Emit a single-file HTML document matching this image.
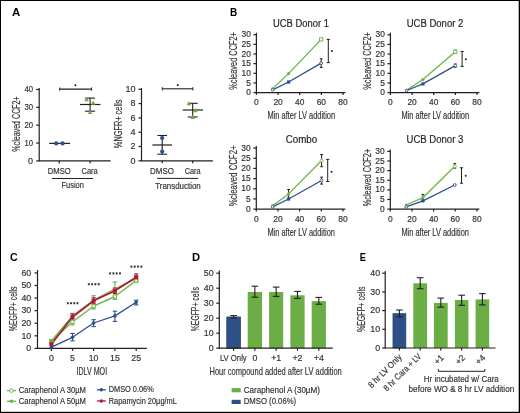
<!DOCTYPE html>
<html><head><meta charset="utf-8"><style>
html,body{margin:0;padding:0;background:#fff;}
body{width:520px;height:413px;overflow:hidden;position:relative;}
svg{position:absolute;left:0;top:0;will-change:transform;}
text{font-family:"Liberation Sans", sans-serif;}
</style></head><body>
<svg width="520" height="413" viewBox="0 0 520 413">
<rect x="0" y="0" width="520" height="413" fill="#fff"/>
<text x="16.20" y="15.71" font-size="11" text-anchor="middle" font-weight="bold" fill="#000" stroke="#000" stroke-width="0" textLength="8.30" lengthAdjust="spacingAndGlyphs">A</text>
<text x="233.60" y="15.95" font-size="10.5" text-anchor="middle" font-weight="bold" fill="#000" stroke="#000" stroke-width="0" textLength="7.20" lengthAdjust="spacingAndGlyphs">B</text>
<text x="13.95" y="261.43" font-size="10.8" text-anchor="middle" font-weight="bold" fill="#000" stroke="#000" stroke-width="0" textLength="7.70" lengthAdjust="spacingAndGlyphs">C</text>
<text x="196.15" y="261.43" font-size="10.8" text-anchor="middle" font-weight="bold" fill="#000" stroke="#000" stroke-width="0" textLength="8.10" lengthAdjust="spacingAndGlyphs">D</text>
<text x="362.80" y="261.23" font-size="10.8" text-anchor="middle" font-weight="bold" fill="#000" stroke="#000" stroke-width="0" textLength="6.20" lengthAdjust="spacingAndGlyphs">E</text>
<line x1="39.20" y1="88.00" x2="39.20" y2="161.50" stroke="#231f20" stroke-width="1.2"/>
<line x1="36.20" y1="160.90" x2="39.20" y2="160.90" stroke="#231f20" stroke-width="1.2"/>
<text x="33.00" y="163.69" font-size="9" text-anchor="end" font-weight="normal" fill="#333333" stroke="#333333" stroke-width="0.18">0</text>
<line x1="36.20" y1="143.05" x2="39.20" y2="143.05" stroke="#231f20" stroke-width="1.2"/>
<text x="33.00" y="145.84" font-size="9" text-anchor="end" font-weight="normal" fill="#333333" stroke="#333333" stroke-width="0.18" textLength="8.60" lengthAdjust="spacingAndGlyphs">10</text>
<line x1="36.20" y1="125.20" x2="39.20" y2="125.20" stroke="#231f20" stroke-width="1.2"/>
<text x="33.00" y="127.99" font-size="9" text-anchor="end" font-weight="normal" fill="#333333" stroke="#333333" stroke-width="0.18" textLength="8.60" lengthAdjust="spacingAndGlyphs">20</text>
<line x1="36.20" y1="107.35" x2="39.20" y2="107.35" stroke="#231f20" stroke-width="1.2"/>
<text x="33.00" y="110.14" font-size="9" text-anchor="end" font-weight="normal" fill="#333333" stroke="#333333" stroke-width="0.18" textLength="8.60" lengthAdjust="spacingAndGlyphs">30</text>
<line x1="36.20" y1="89.50" x2="39.20" y2="89.50" stroke="#231f20" stroke-width="1.2"/>
<text x="33.00" y="92.29" font-size="9" text-anchor="end" font-weight="normal" fill="#333333" stroke="#333333" stroke-width="0.18" textLength="8.60" lengthAdjust="spacingAndGlyphs">40</text>
<line x1="39.20" y1="160.90" x2="110.60" y2="160.90" stroke="#231f20" stroke-width="1.2"/>
<line x1="59.20" y1="160.90" x2="59.20" y2="163.40" stroke="#231f20" stroke-width="1.2"/>
<line x1="90.10" y1="160.90" x2="90.10" y2="163.40" stroke="#231f20" stroke-width="1.2"/>
<text x="47.70" y="174.11" font-size="9" text-anchor="start" font-weight="normal" fill="#333333" stroke="#333333" stroke-width="0.18" textLength="23.10" lengthAdjust="spacingAndGlyphs">DMSO</text>
<text x="81.50" y="174.11" font-size="9" text-anchor="start" font-weight="normal" fill="#333333" stroke="#333333" stroke-width="0.18" textLength="16.20" lengthAdjust="spacingAndGlyphs">Cara</text>
<line x1="52.00" y1="178.50" x2="93.00" y2="178.50" stroke="#231f20" stroke-width="1.0"/>
<text x="61.50" y="188.19" font-size="8.6" text-anchor="start" font-weight="normal" fill="#333333" stroke="#333333" stroke-width="0.18" textLength="22.30" lengthAdjust="spacingAndGlyphs">Fusion</text>
<text transform="translate(16.30,124.00) rotate(-90)" x="0" y="3.19" font-size="11" text-anchor="middle" font-weight="normal" fill="#333333" stroke="#333333" stroke-width="0.18" textLength="55.40" lengthAdjust="spacingAndGlyphs">%cleaved CCF2+</text>
<line x1="49.20" y1="143.40" x2="70.00" y2="143.40" stroke="#231f20" stroke-width="1.2"/>
<circle cx="56.20" cy="143.40" r="2.1" fill="#2f4f8c"/>
<circle cx="62.60" cy="143.40" r="2.1" fill="#2f4f8c"/>
<line x1="80.00" y1="104.50" x2="100.40" y2="104.50" stroke="#231f20" stroke-width="1.2"/>
<line x1="90.10" y1="98.10" x2="90.10" y2="111.20" stroke="#231f20" stroke-width="1.1"/>
<line x1="85.10" y1="98.10" x2="95.10" y2="98.10" stroke="#231f20" stroke-width="1.1"/>
<line x1="85.10" y1="111.20" x2="95.10" y2="111.20" stroke="#231f20" stroke-width="1.1"/>
<polygon points="86.60,97.20 88.88,101.28 84.32,101.28" fill="#6aae45"/>
<polygon points="93.20,100.60 95.48,104.68 90.92,104.68" fill="#6aae45"/>
<polygon points="90.10,109.90 92.38,113.98 87.82,113.98" fill="#6aae45"/>
<line x1="59.70" y1="89.10" x2="91.60" y2="89.10" stroke="#231f20" stroke-width="1.1"/>
<line x1="59.70" y1="87.50" x2="59.70" y2="90.70" stroke="#231f20" stroke-width="1.0"/>
<line x1="91.60" y1="87.50" x2="91.60" y2="90.70" stroke="#231f20" stroke-width="1.0"/>
<circle cx="75.40" cy="85.30" r="1.0" fill="#231f20"/>
<line x1="141.50" y1="88.00" x2="141.50" y2="161.40" stroke="#231f20" stroke-width="1.2"/>
<line x1="138.50" y1="160.80" x2="141.50" y2="160.80" stroke="#231f20" stroke-width="1.2"/>
<text x="135.60" y="163.59" font-size="9" text-anchor="end" font-weight="normal" fill="#333333" stroke="#333333" stroke-width="0.18">0</text>
<line x1="138.50" y1="146.50" x2="141.50" y2="146.50" stroke="#231f20" stroke-width="1.2"/>
<text x="135.60" y="149.29" font-size="9" text-anchor="end" font-weight="normal" fill="#333333" stroke="#333333" stroke-width="0.18">2</text>
<line x1="138.50" y1="132.20" x2="141.50" y2="132.20" stroke="#231f20" stroke-width="1.2"/>
<text x="135.60" y="134.99" font-size="9" text-anchor="end" font-weight="normal" fill="#333333" stroke="#333333" stroke-width="0.18">4</text>
<line x1="138.50" y1="117.90" x2="141.50" y2="117.90" stroke="#231f20" stroke-width="1.2"/>
<text x="135.60" y="120.69" font-size="9" text-anchor="end" font-weight="normal" fill="#333333" stroke="#333333" stroke-width="0.18">6</text>
<line x1="138.50" y1="103.60" x2="141.50" y2="103.60" stroke="#231f20" stroke-width="1.2"/>
<text x="135.60" y="106.39" font-size="9" text-anchor="end" font-weight="normal" fill="#333333" stroke="#333333" stroke-width="0.18">8</text>
<line x1="138.50" y1="89.30" x2="141.50" y2="89.30" stroke="#231f20" stroke-width="1.2"/>
<text x="135.60" y="92.09" font-size="9" text-anchor="end" font-weight="normal" fill="#333333" stroke="#333333" stroke-width="0.18">10</text>
<line x1="141.50" y1="160.80" x2="212.90" y2="160.80" stroke="#231f20" stroke-width="1.2"/>
<line x1="162.20" y1="160.80" x2="162.20" y2="163.30" stroke="#231f20" stroke-width="1.2"/>
<line x1="192.70" y1="160.80" x2="192.70" y2="163.30" stroke="#231f20" stroke-width="1.2"/>
<text x="150.10" y="173.81" font-size="9" text-anchor="start" font-weight="normal" fill="#333333" stroke="#333333" stroke-width="0.18" textLength="23.90" lengthAdjust="spacingAndGlyphs">DMSO</text>
<text x="184.70" y="173.81" font-size="9" text-anchor="start" font-weight="normal" fill="#333333" stroke="#333333" stroke-width="0.18" textLength="16.00" lengthAdjust="spacingAndGlyphs">Cara</text>
<line x1="157.10" y1="178.40" x2="198.20" y2="178.40" stroke="#231f20" stroke-width="1.0"/>
<text x="155.30" y="188.79" font-size="8.6" text-anchor="start" font-weight="normal" fill="#333333" stroke="#333333" stroke-width="0.18" textLength="45.40" lengthAdjust="spacingAndGlyphs">Transduction</text>
<text transform="translate(119.00,123.90) rotate(-90)" x="0" y="3.04" font-size="10.5" text-anchor="middle" font-weight="normal" fill="#333333" stroke="#333333" stroke-width="0.18" textLength="48.50" lengthAdjust="spacingAndGlyphs">%NGFR+ cells</text>
<line x1="152.40" y1="145.00" x2="172.00" y2="145.00" stroke="#231f20" stroke-width="1.2"/>
<line x1="162.20" y1="135.50" x2="162.20" y2="154.20" stroke="#231f20" stroke-width="1.1"/>
<line x1="157.40" y1="135.50" x2="167.00" y2="135.50" stroke="#231f20" stroke-width="1.1"/>
<line x1="157.40" y1="154.20" x2="167.00" y2="154.20" stroke="#231f20" stroke-width="1.1"/>
<circle cx="162.20" cy="138.10" r="2.1" fill="#2f4f8c"/>
<circle cx="162.20" cy="151.60" r="2.1" fill="#2f4f8c"/>
<line x1="182.70" y1="110.00" x2="203.00" y2="110.00" stroke="#231f20" stroke-width="1.2"/>
<line x1="192.70" y1="103.30" x2="192.70" y2="117.00" stroke="#231f20" stroke-width="1.1"/>
<line x1="187.70" y1="103.30" x2="197.70" y2="103.30" stroke="#231f20" stroke-width="1.1"/>
<line x1="187.70" y1="117.00" x2="197.70" y2="117.00" stroke="#231f20" stroke-width="1.1"/>
<polygon points="189.00,101.20 191.28,105.28 186.72,105.28" fill="#6aae45"/>
<polygon points="195.50,108.10 197.78,112.18 193.22,112.18" fill="#6aae45"/>
<polygon points="192.80,114.80 195.08,118.88 190.52,118.88" fill="#6aae45"/>
<line x1="162.30" y1="88.80" x2="192.80" y2="88.80" stroke="#231f20" stroke-width="1.1"/>
<line x1="162.30" y1="87.20" x2="162.30" y2="90.40" stroke="#231f20" stroke-width="1.0"/>
<line x1="192.80" y1="87.20" x2="192.80" y2="90.40" stroke="#231f20" stroke-width="1.0"/>
<circle cx="177.70" cy="85.00" r="1.0" fill="#231f20"/>
<line x1="256.40" y1="32.70" x2="256.40" y2="93.20" stroke="#231f20" stroke-width="1.2"/>
<line x1="253.40" y1="92.60" x2="256.40" y2="92.60" stroke="#231f20" stroke-width="1.2"/>
<text x="250.80" y="95.20" font-size="8.4" text-anchor="end" font-weight="normal" fill="#333333" stroke="#333333" stroke-width="0.18">0</text>
<line x1="253.40" y1="82.95" x2="256.40" y2="82.95" stroke="#231f20" stroke-width="1.2"/>
<text x="250.80" y="85.55" font-size="8.4" text-anchor="end" font-weight="normal" fill="#333333" stroke="#333333" stroke-width="0.18">5</text>
<line x1="253.40" y1="73.30" x2="256.40" y2="73.30" stroke="#231f20" stroke-width="1.2"/>
<text x="250.80" y="75.90" font-size="8.4" text-anchor="end" font-weight="normal" fill="#333333" stroke="#333333" stroke-width="0.18">10</text>
<line x1="253.40" y1="63.65" x2="256.40" y2="63.65" stroke="#231f20" stroke-width="1.2"/>
<text x="250.80" y="66.25" font-size="8.4" text-anchor="end" font-weight="normal" fill="#333333" stroke="#333333" stroke-width="0.18">15</text>
<line x1="253.40" y1="54.00" x2="256.40" y2="54.00" stroke="#231f20" stroke-width="1.2"/>
<text x="250.80" y="56.60" font-size="8.4" text-anchor="end" font-weight="normal" fill="#333333" stroke="#333333" stroke-width="0.18">20</text>
<line x1="253.40" y1="44.35" x2="256.40" y2="44.35" stroke="#231f20" stroke-width="1.2"/>
<text x="250.80" y="46.95" font-size="8.4" text-anchor="end" font-weight="normal" fill="#333333" stroke="#333333" stroke-width="0.18">25</text>
<line x1="253.40" y1="34.70" x2="256.40" y2="34.70" stroke="#231f20" stroke-width="1.2"/>
<text x="250.80" y="37.30" font-size="8.4" text-anchor="end" font-weight="normal" fill="#333333" stroke="#333333" stroke-width="0.18">30</text>
<line x1="256.40" y1="92.60" x2="345.40" y2="92.60" stroke="#231f20" stroke-width="1.2"/>
<line x1="278.05" y1="92.60" x2="278.05" y2="95.10" stroke="#231f20" stroke-width="1.2"/>
<line x1="299.70" y1="92.60" x2="299.70" y2="95.10" stroke="#231f20" stroke-width="1.2"/>
<line x1="321.35" y1="92.60" x2="321.35" y2="95.10" stroke="#231f20" stroke-width="1.2"/>
<line x1="343.00" y1="92.60" x2="343.00" y2="95.10" stroke="#231f20" stroke-width="1.2"/>
<line x1="256.40" y1="92.60" x2="256.40" y2="95.10" stroke="#231f20" stroke-width="1.2"/>
<text x="256.40" y="105.24" font-size="8.4" text-anchor="middle" font-weight="normal" fill="#333333" stroke="#333333" stroke-width="0.18">0</text>
<text x="278.05" y="105.24" font-size="8.4" text-anchor="middle" font-weight="normal" fill="#333333" stroke="#333333" stroke-width="0.18">20</text>
<text x="299.70" y="105.24" font-size="8.4" text-anchor="middle" font-weight="normal" fill="#333333" stroke="#333333" stroke-width="0.18">40</text>
<text x="321.35" y="105.24" font-size="8.4" text-anchor="middle" font-weight="normal" fill="#333333" stroke="#333333" stroke-width="0.18">60</text>
<text x="343.00" y="105.24" font-size="8.4" text-anchor="middle" font-weight="normal" fill="#333333" stroke="#333333" stroke-width="0.18">80</text>
<text x="267.50" y="119.14" font-size="10.5" text-anchor="start" font-weight="normal" fill="#333333" stroke="#333333" stroke-width="0.18" textLength="67.60" lengthAdjust="spacingAndGlyphs">Min after LV addition</text>
<text transform="translate(234.00,60.95) rotate(-90)" x="0" y="3.19" font-size="11" text-anchor="middle" font-weight="normal" fill="#333333" stroke="#333333" stroke-width="0.18" textLength="57.70" lengthAdjust="spacingAndGlyphs">%cleaved CCF2+</text>
<text x="273.00" y="26.70" font-size="10" text-anchor="start" font-weight="normal" fill="#231f20" stroke="#231f20" stroke-width="0.18" textLength="55.90" lengthAdjust="spacingAndGlyphs">UCB Donor 1</text>
<line x1="321.20" y1="58.80" x2="321.20" y2="67.50" stroke="#231f20" stroke-width="1.0"/>
<line x1="319.80" y1="58.80" x2="322.60" y2="58.80" stroke="#231f20" stroke-width="1.0"/>
<line x1="319.80" y1="67.50" x2="322.60" y2="67.50" stroke="#231f20" stroke-width="1.0"/>
<polyline points="272.60,88.60 288.60,73.60 321.20,39.40" fill="none" stroke="#6cb443" stroke-width="1.3" stroke-linejoin="round"/>
<polyline points="272.60,89.80 288.60,82.00 321.20,63.10" fill="none" stroke="#2f4f8c" stroke-width="1.3" stroke-linejoin="round"/>
<circle cx="272.60" cy="88.60" r="1.4" fill="#6cb443"/>
<circle cx="288.60" cy="73.60" r="1.6" fill="#6cb443"/>
<rect x="319.60" y="37.80" width="3.2" height="3.2" fill="#fff" stroke="#6cb443" stroke-width="0.9"/>
<circle cx="272.60" cy="89.80" r="1.3" fill="#fff" stroke="#2f4f8c" stroke-width="0.9"/>
<rect x="287.00" y="80.40" width="3.2" height="3.2" fill="#2f4f8c"/>
<circle cx="321.20" cy="63.10" r="1.4" fill="#fff" stroke="#2f4f8c" stroke-width="0.9"/>
<line x1="328.30" y1="39.40" x2="328.30" y2="62.60" stroke="#231f20" stroke-width="1.0"/>
<line x1="326.70" y1="39.40" x2="329.90" y2="39.40" stroke="#231f20" stroke-width="1.0"/>
<line x1="326.70" y1="62.60" x2="329.90" y2="62.60" stroke="#231f20" stroke-width="1.0"/>
<circle cx="331.90" cy="51.00" r="1.0" fill="#231f20"/>
<line x1="390.40" y1="32.80" x2="390.40" y2="93.20" stroke="#231f20" stroke-width="1.2"/>
<line x1="387.40" y1="92.60" x2="390.40" y2="92.60" stroke="#231f20" stroke-width="1.2"/>
<text x="384.80" y="95.20" font-size="8.4" text-anchor="end" font-weight="normal" fill="#333333" stroke="#333333" stroke-width="0.18">0</text>
<line x1="387.40" y1="82.97" x2="390.40" y2="82.97" stroke="#231f20" stroke-width="1.2"/>
<text x="384.80" y="85.57" font-size="8.4" text-anchor="end" font-weight="normal" fill="#333333" stroke="#333333" stroke-width="0.18">5</text>
<line x1="387.40" y1="73.33" x2="390.40" y2="73.33" stroke="#231f20" stroke-width="1.2"/>
<text x="384.80" y="75.94" font-size="8.4" text-anchor="end" font-weight="normal" fill="#333333" stroke="#333333" stroke-width="0.18">10</text>
<line x1="387.40" y1="63.70" x2="390.40" y2="63.70" stroke="#231f20" stroke-width="1.2"/>
<text x="384.80" y="66.30" font-size="8.4" text-anchor="end" font-weight="normal" fill="#333333" stroke="#333333" stroke-width="0.18">15</text>
<line x1="387.40" y1="54.07" x2="390.40" y2="54.07" stroke="#231f20" stroke-width="1.2"/>
<text x="384.80" y="56.67" font-size="8.4" text-anchor="end" font-weight="normal" fill="#333333" stroke="#333333" stroke-width="0.18">20</text>
<line x1="387.40" y1="44.43" x2="390.40" y2="44.43" stroke="#231f20" stroke-width="1.2"/>
<text x="384.80" y="47.04" font-size="8.4" text-anchor="end" font-weight="normal" fill="#333333" stroke="#333333" stroke-width="0.18">25</text>
<line x1="387.40" y1="34.80" x2="390.40" y2="34.80" stroke="#231f20" stroke-width="1.2"/>
<text x="384.80" y="37.40" font-size="8.4" text-anchor="end" font-weight="normal" fill="#333333" stroke="#333333" stroke-width="0.18">30</text>
<line x1="390.40" y1="92.60" x2="479.40" y2="92.60" stroke="#231f20" stroke-width="1.2"/>
<line x1="412.05" y1="92.60" x2="412.05" y2="95.10" stroke="#231f20" stroke-width="1.2"/>
<line x1="433.70" y1="92.60" x2="433.70" y2="95.10" stroke="#231f20" stroke-width="1.2"/>
<line x1="455.35" y1="92.60" x2="455.35" y2="95.10" stroke="#231f20" stroke-width="1.2"/>
<line x1="477.00" y1="92.60" x2="477.00" y2="95.10" stroke="#231f20" stroke-width="1.2"/>
<line x1="390.40" y1="92.60" x2="390.40" y2="95.10" stroke="#231f20" stroke-width="1.2"/>
<text x="390.40" y="105.24" font-size="8.4" text-anchor="middle" font-weight="normal" fill="#333333" stroke="#333333" stroke-width="0.18">0</text>
<text x="412.05" y="105.24" font-size="8.4" text-anchor="middle" font-weight="normal" fill="#333333" stroke="#333333" stroke-width="0.18">20</text>
<text x="433.70" y="105.24" font-size="8.4" text-anchor="middle" font-weight="normal" fill="#333333" stroke="#333333" stroke-width="0.18">40</text>
<text x="455.35" y="105.24" font-size="8.4" text-anchor="middle" font-weight="normal" fill="#333333" stroke="#333333" stroke-width="0.18">60</text>
<text x="477.00" y="105.24" font-size="8.4" text-anchor="middle" font-weight="normal" fill="#333333" stroke="#333333" stroke-width="0.18">80</text>
<text x="401.50" y="119.14" font-size="10.5" text-anchor="start" font-weight="normal" fill="#333333" stroke="#333333" stroke-width="0.18" textLength="67.60" lengthAdjust="spacingAndGlyphs">Min after LV addition</text>
<text transform="translate(368.00,61.00) rotate(-90)" x="0" y="3.19" font-size="11" text-anchor="middle" font-weight="normal" fill="#333333" stroke="#333333" stroke-width="0.18" textLength="57.60" lengthAdjust="spacingAndGlyphs">%cleaved CCF2+</text>
<text x="406.70" y="26.50" font-size="10" text-anchor="start" font-weight="normal" fill="#231f20" stroke="#231f20" stroke-width="0.18" textLength="56.60" lengthAdjust="spacingAndGlyphs">UCB Donor 2</text>
<line x1="455.30" y1="50.20" x2="455.30" y2="53.20" stroke="#231f20" stroke-width="1.0"/>
<line x1="453.90" y1="50.20" x2="456.70" y2="50.20" stroke="#231f20" stroke-width="1.0"/>
<line x1="453.90" y1="53.20" x2="456.70" y2="53.20" stroke="#231f20" stroke-width="1.0"/>
<line x1="455.30" y1="64.00" x2="455.30" y2="67.20" stroke="#231f20" stroke-width="1.0"/>
<line x1="453.90" y1="64.00" x2="456.70" y2="64.00" stroke="#231f20" stroke-width="1.0"/>
<line x1="453.90" y1="67.20" x2="456.70" y2="67.20" stroke="#231f20" stroke-width="1.0"/>
<polyline points="406.50,90.20 422.90,79.50 455.30,51.70" fill="none" stroke="#6cb443" stroke-width="1.3" stroke-linejoin="round"/>
<polyline points="406.50,90.50 422.90,83.90 455.30,65.60" fill="none" stroke="#2f4f8c" stroke-width="1.3" stroke-linejoin="round"/>
<circle cx="406.50" cy="90.20" r="1.4" fill="#6cb443"/>
<circle cx="422.90" cy="79.50" r="1.6" fill="#6cb443"/>
<rect x="453.70" y="50.10" width="3.2" height="3.2" fill="#fff" stroke="#6cb443" stroke-width="0.9"/>
<circle cx="406.50" cy="90.50" r="1.3" fill="#fff" stroke="#2f4f8c" stroke-width="0.9"/>
<rect x="421.30" y="82.30" width="3.2" height="3.2" fill="#2f4f8c"/>
<circle cx="455.30" cy="65.60" r="1.4" fill="#fff" stroke="#2f4f8c" stroke-width="0.9"/>
<line x1="462.10" y1="51.50" x2="462.10" y2="66.40" stroke="#231f20" stroke-width="1.0"/>
<line x1="460.50" y1="51.50" x2="463.70" y2="51.50" stroke="#231f20" stroke-width="1.0"/>
<line x1="460.50" y1="66.40" x2="463.70" y2="66.40" stroke="#231f20" stroke-width="1.0"/>
<circle cx="465.80" cy="59.20" r="1.0" fill="#231f20"/>
<line x1="256.30" y1="146.10" x2="256.30" y2="209.70" stroke="#231f20" stroke-width="1.2"/>
<line x1="253.30" y1="209.10" x2="256.30" y2="209.10" stroke="#231f20" stroke-width="1.2"/>
<text x="250.70" y="211.70" font-size="8.4" text-anchor="end" font-weight="normal" fill="#333333" stroke="#333333" stroke-width="0.18">0</text>
<line x1="253.30" y1="198.93" x2="256.30" y2="198.93" stroke="#231f20" stroke-width="1.2"/>
<text x="250.70" y="201.54" font-size="8.4" text-anchor="end" font-weight="normal" fill="#333333" stroke="#333333" stroke-width="0.18">5</text>
<line x1="253.30" y1="188.77" x2="256.30" y2="188.77" stroke="#231f20" stroke-width="1.2"/>
<text x="250.70" y="191.37" font-size="8.4" text-anchor="end" font-weight="normal" fill="#333333" stroke="#333333" stroke-width="0.18">10</text>
<line x1="253.30" y1="178.60" x2="256.30" y2="178.60" stroke="#231f20" stroke-width="1.2"/>
<text x="250.70" y="181.20" font-size="8.4" text-anchor="end" font-weight="normal" fill="#333333" stroke="#333333" stroke-width="0.18">15</text>
<line x1="253.30" y1="168.43" x2="256.30" y2="168.43" stroke="#231f20" stroke-width="1.2"/>
<text x="250.70" y="171.04" font-size="8.4" text-anchor="end" font-weight="normal" fill="#333333" stroke="#333333" stroke-width="0.18">20</text>
<line x1="253.30" y1="158.27" x2="256.30" y2="158.27" stroke="#231f20" stroke-width="1.2"/>
<text x="250.70" y="160.87" font-size="8.4" text-anchor="end" font-weight="normal" fill="#333333" stroke="#333333" stroke-width="0.18">25</text>
<line x1="253.30" y1="148.10" x2="256.30" y2="148.10" stroke="#231f20" stroke-width="1.2"/>
<text x="250.70" y="150.70" font-size="8.4" text-anchor="end" font-weight="normal" fill="#333333" stroke="#333333" stroke-width="0.18">30</text>
<line x1="256.30" y1="209.10" x2="345.30" y2="209.10" stroke="#231f20" stroke-width="1.2"/>
<line x1="277.95" y1="209.10" x2="277.95" y2="211.60" stroke="#231f20" stroke-width="1.2"/>
<line x1="299.60" y1="209.10" x2="299.60" y2="211.60" stroke="#231f20" stroke-width="1.2"/>
<line x1="321.25" y1="209.10" x2="321.25" y2="211.60" stroke="#231f20" stroke-width="1.2"/>
<line x1="342.90" y1="209.10" x2="342.90" y2="211.60" stroke="#231f20" stroke-width="1.2"/>
<line x1="256.30" y1="209.10" x2="256.30" y2="211.60" stroke="#231f20" stroke-width="1.2"/>
<text x="256.30" y="221.74" font-size="8.4" text-anchor="middle" font-weight="normal" fill="#333333" stroke="#333333" stroke-width="0.18">0</text>
<text x="277.95" y="221.74" font-size="8.4" text-anchor="middle" font-weight="normal" fill="#333333" stroke="#333333" stroke-width="0.18">20</text>
<text x="299.60" y="221.74" font-size="8.4" text-anchor="middle" font-weight="normal" fill="#333333" stroke="#333333" stroke-width="0.18">40</text>
<text x="321.25" y="221.74" font-size="8.4" text-anchor="middle" font-weight="normal" fill="#333333" stroke="#333333" stroke-width="0.18">60</text>
<text x="342.90" y="221.74" font-size="8.4" text-anchor="middle" font-weight="normal" fill="#333333" stroke="#333333" stroke-width="0.18">80</text>
<text x="267.40" y="235.64" font-size="10.5" text-anchor="start" font-weight="normal" fill="#333333" stroke="#333333" stroke-width="0.18" textLength="67.60" lengthAdjust="spacingAndGlyphs">Min after LV addition</text>
<text transform="translate(233.90,175.90) rotate(-90)" x="0" y="3.19" font-size="11" text-anchor="middle" font-weight="normal" fill="#333333" stroke="#333333" stroke-width="0.18" textLength="60.80" lengthAdjust="spacingAndGlyphs">%cleaved CCF2+</text>
<text x="285.70" y="143.40" font-size="10" text-anchor="start" font-weight="normal" fill="#231f20" stroke="#231f20" stroke-width="0.18" textLength="31.50" lengthAdjust="spacingAndGlyphs">Combo</text>
<line x1="321.60" y1="154.50" x2="321.60" y2="166.70" stroke="#231f20" stroke-width="1.0"/>
<line x1="320.20" y1="154.50" x2="323.00" y2="154.50" stroke="#231f20" stroke-width="1.0"/>
<line x1="320.20" y1="166.70" x2="323.00" y2="166.70" stroke="#231f20" stroke-width="1.0"/>
<line x1="288.60" y1="189.50" x2="288.60" y2="198.30" stroke="#231f20" stroke-width="1.0"/>
<line x1="287.20" y1="189.50" x2="290.00" y2="189.50" stroke="#231f20" stroke-width="1.0"/>
<line x1="287.20" y1="198.30" x2="290.00" y2="198.30" stroke="#231f20" stroke-width="1.0"/>
<line x1="321.60" y1="177.20" x2="321.60" y2="184.10" stroke="#231f20" stroke-width="1.0"/>
<line x1="320.20" y1="177.20" x2="323.00" y2="177.20" stroke="#231f20" stroke-width="1.0"/>
<line x1="320.20" y1="184.10" x2="323.00" y2="184.10" stroke="#231f20" stroke-width="1.0"/>
<polyline points="272.60,205.70 288.60,193.90 321.60,160.50" fill="none" stroke="#6cb443" stroke-width="1.3" stroke-linejoin="round"/>
<polyline points="272.60,206.80 288.60,199.00 321.60,180.50" fill="none" stroke="#2f4f8c" stroke-width="1.3" stroke-linejoin="round"/>
<circle cx="272.60" cy="205.70" r="1.4" fill="#6cb443"/>
<circle cx="288.60" cy="193.90" r="1.6" fill="#6cb443"/>
<circle cx="321.60" cy="160.50" r="1.5" fill="#fff" stroke="#6cb443" stroke-width="0.9"/>
<circle cx="272.60" cy="206.80" r="1.3" fill="#fff" stroke="#2f4f8c" stroke-width="0.9"/>
<rect x="287.00" y="197.40" width="3.2" height="3.2" fill="#2f4f8c"/>
<circle cx="321.60" cy="180.50" r="1.4" fill="#fff" stroke="#2f4f8c" stroke-width="0.9"/>
<line x1="327.70" y1="159.40" x2="327.70" y2="181.50" stroke="#231f20" stroke-width="1.0"/>
<line x1="326.10" y1="159.40" x2="329.30" y2="159.40" stroke="#231f20" stroke-width="1.0"/>
<line x1="326.10" y1="181.50" x2="329.30" y2="181.50" stroke="#231f20" stroke-width="1.0"/>
<circle cx="331.50" cy="171.80" r="1.0" fill="#231f20"/>
<line x1="390.30" y1="149.40" x2="390.30" y2="209.70" stroke="#231f20" stroke-width="1.2"/>
<line x1="387.30" y1="209.10" x2="390.30" y2="209.10" stroke="#231f20" stroke-width="1.2"/>
<text x="384.70" y="211.70" font-size="8.4" text-anchor="end" font-weight="normal" fill="#333333" stroke="#333333" stroke-width="0.18">0</text>
<line x1="387.30" y1="199.48" x2="390.30" y2="199.48" stroke="#231f20" stroke-width="1.2"/>
<text x="384.70" y="202.09" font-size="8.4" text-anchor="end" font-weight="normal" fill="#333333" stroke="#333333" stroke-width="0.18">5</text>
<line x1="387.30" y1="189.87" x2="390.30" y2="189.87" stroke="#231f20" stroke-width="1.2"/>
<text x="384.70" y="192.47" font-size="8.4" text-anchor="end" font-weight="normal" fill="#333333" stroke="#333333" stroke-width="0.18">10</text>
<line x1="387.30" y1="180.25" x2="390.30" y2="180.25" stroke="#231f20" stroke-width="1.2"/>
<text x="384.70" y="182.85" font-size="8.4" text-anchor="end" font-weight="normal" fill="#333333" stroke="#333333" stroke-width="0.18">15</text>
<line x1="387.30" y1="170.63" x2="390.30" y2="170.63" stroke="#231f20" stroke-width="1.2"/>
<text x="384.70" y="173.24" font-size="8.4" text-anchor="end" font-weight="normal" fill="#333333" stroke="#333333" stroke-width="0.18">20</text>
<line x1="387.30" y1="161.02" x2="390.30" y2="161.02" stroke="#231f20" stroke-width="1.2"/>
<text x="384.70" y="163.62" font-size="8.4" text-anchor="end" font-weight="normal" fill="#333333" stroke="#333333" stroke-width="0.18">25</text>
<line x1="387.30" y1="151.40" x2="390.30" y2="151.40" stroke="#231f20" stroke-width="1.2"/>
<text x="384.70" y="154.00" font-size="8.4" text-anchor="end" font-weight="normal" fill="#333333" stroke="#333333" stroke-width="0.18">30</text>
<line x1="390.30" y1="209.10" x2="479.30" y2="209.10" stroke="#231f20" stroke-width="1.2"/>
<line x1="411.95" y1="209.10" x2="411.95" y2="211.60" stroke="#231f20" stroke-width="1.2"/>
<line x1="433.60" y1="209.10" x2="433.60" y2="211.60" stroke="#231f20" stroke-width="1.2"/>
<line x1="455.25" y1="209.10" x2="455.25" y2="211.60" stroke="#231f20" stroke-width="1.2"/>
<line x1="476.90" y1="209.10" x2="476.90" y2="211.60" stroke="#231f20" stroke-width="1.2"/>
<line x1="390.30" y1="209.10" x2="390.30" y2="211.60" stroke="#231f20" stroke-width="1.2"/>
<text x="390.30" y="221.74" font-size="8.4" text-anchor="middle" font-weight="normal" fill="#333333" stroke="#333333" stroke-width="0.18">0</text>
<text x="411.95" y="221.74" font-size="8.4" text-anchor="middle" font-weight="normal" fill="#333333" stroke="#333333" stroke-width="0.18">20</text>
<text x="433.60" y="221.74" font-size="8.4" text-anchor="middle" font-weight="normal" fill="#333333" stroke="#333333" stroke-width="0.18">40</text>
<text x="455.25" y="221.74" font-size="8.4" text-anchor="middle" font-weight="normal" fill="#333333" stroke="#333333" stroke-width="0.18">60</text>
<text x="476.90" y="221.74" font-size="8.4" text-anchor="middle" font-weight="normal" fill="#333333" stroke="#333333" stroke-width="0.18">80</text>
<text x="401.40" y="235.64" font-size="10.5" text-anchor="start" font-weight="normal" fill="#333333" stroke="#333333" stroke-width="0.18" textLength="67.60" lengthAdjust="spacingAndGlyphs">Min after LV addition</text>
<text transform="translate(367.90,177.55) rotate(-90)" x="0" y="3.19" font-size="11" text-anchor="middle" font-weight="normal" fill="#333333" stroke="#333333" stroke-width="0.18" textLength="57.50" lengthAdjust="spacingAndGlyphs">%cleaved CCF2+</text>
<text x="406.60" y="143.40" font-size="10" text-anchor="start" font-weight="normal" fill="#231f20" stroke="#231f20" stroke-width="0.18" textLength="56.70" lengthAdjust="spacingAndGlyphs">UCB Donor 3</text>
<line x1="454.80" y1="163.60" x2="454.80" y2="168.10" stroke="#231f20" stroke-width="1.0"/>
<line x1="453.40" y1="163.60" x2="456.20" y2="163.60" stroke="#231f20" stroke-width="1.0"/>
<line x1="453.40" y1="168.10" x2="456.20" y2="168.10" stroke="#231f20" stroke-width="1.0"/>
<line x1="422.90" y1="194.40" x2="422.90" y2="201.00" stroke="#231f20" stroke-width="1.0"/>
<line x1="421.50" y1="194.40" x2="424.30" y2="194.40" stroke="#231f20" stroke-width="1.0"/>
<line x1="421.50" y1="201.00" x2="424.30" y2="201.00" stroke="#231f20" stroke-width="1.0"/>
<polyline points="406.20,205.00 422.90,197.70 454.80,166.30" fill="none" stroke="#6cb443" stroke-width="1.3" stroke-linejoin="round"/>
<polyline points="406.20,206.80 422.90,200.80 454.80,185.00" fill="none" stroke="#2f4f8c" stroke-width="1.3" stroke-linejoin="round"/>
<circle cx="406.20" cy="205.00" r="1.4" fill="#6cb443"/>
<circle cx="422.90" cy="197.70" r="1.6" fill="#6cb443"/>
<circle cx="454.80" cy="166.30" r="1.5" fill="#fff" stroke="#6cb443" stroke-width="0.9"/>
<circle cx="406.20" cy="206.80" r="1.3" fill="#fff" stroke="#2f4f8c" stroke-width="0.9"/>
<rect x="421.30" y="199.20" width="3.2" height="3.2" fill="#2f4f8c"/>
<circle cx="454.80" cy="185.00" r="1.4" fill="#fff" stroke="#2f4f8c" stroke-width="0.9"/>
<line x1="461.50" y1="167.80" x2="461.50" y2="183.20" stroke="#231f20" stroke-width="1.0"/>
<line x1="459.90" y1="167.80" x2="463.10" y2="167.80" stroke="#231f20" stroke-width="1.0"/>
<line x1="459.90" y1="183.20" x2="463.10" y2="183.20" stroke="#231f20" stroke-width="1.0"/>
<circle cx="465.70" cy="175.70" r="1.0" fill="#231f20"/>
<line x1="37.50" y1="270.00" x2="37.50" y2="349.00" stroke="#231f20" stroke-width="1.2"/>
<line x1="34.50" y1="348.40" x2="37.50" y2="348.40" stroke="#231f20" stroke-width="1.2"/>
<text x="31.20" y="351.13" font-size="8.8" text-anchor="end" font-weight="normal" fill="#333333" stroke="#333333" stroke-width="0.18">0</text>
<line x1="34.50" y1="335.82" x2="37.50" y2="335.82" stroke="#231f20" stroke-width="1.2"/>
<text x="31.20" y="338.55" font-size="8.8" text-anchor="end" font-weight="normal" fill="#333333" stroke="#333333" stroke-width="0.18">10</text>
<line x1="34.50" y1="323.24" x2="37.50" y2="323.24" stroke="#231f20" stroke-width="1.2"/>
<text x="31.20" y="325.97" font-size="8.8" text-anchor="end" font-weight="normal" fill="#333333" stroke="#333333" stroke-width="0.18">20</text>
<line x1="34.50" y1="310.66" x2="37.50" y2="310.66" stroke="#231f20" stroke-width="1.2"/>
<text x="31.20" y="313.39" font-size="8.8" text-anchor="end" font-weight="normal" fill="#333333" stroke="#333333" stroke-width="0.18">30</text>
<line x1="34.50" y1="298.08" x2="37.50" y2="298.08" stroke="#231f20" stroke-width="1.2"/>
<text x="31.20" y="300.81" font-size="8.8" text-anchor="end" font-weight="normal" fill="#333333" stroke="#333333" stroke-width="0.18">40</text>
<line x1="34.50" y1="285.50" x2="37.50" y2="285.50" stroke="#231f20" stroke-width="1.2"/>
<text x="31.20" y="288.23" font-size="8.8" text-anchor="end" font-weight="normal" fill="#333333" stroke="#333333" stroke-width="0.18">50</text>
<line x1="34.50" y1="272.92" x2="37.50" y2="272.92" stroke="#231f20" stroke-width="1.2"/>
<text x="31.20" y="275.65" font-size="8.8" text-anchor="end" font-weight="normal" fill="#333333" stroke="#333333" stroke-width="0.18">60</text>
<line x1="37.50" y1="348.40" x2="146.90" y2="348.40" stroke="#231f20" stroke-width="1.2"/>
<line x1="51.40" y1="348.40" x2="51.40" y2="350.90" stroke="#231f20" stroke-width="1.2"/>
<line x1="72.50" y1="348.40" x2="72.50" y2="350.90" stroke="#231f20" stroke-width="1.2"/>
<line x1="93.60" y1="348.40" x2="93.60" y2="350.90" stroke="#231f20" stroke-width="1.2"/>
<line x1="114.90" y1="348.40" x2="114.90" y2="350.90" stroke="#231f20" stroke-width="1.2"/>
<line x1="136.20" y1="348.40" x2="136.20" y2="350.90" stroke="#231f20" stroke-width="1.2"/>
<text x="51.40" y="361.15" font-size="8.8" text-anchor="middle" font-weight="normal" fill="#333333" stroke="#333333" stroke-width="0.18">0</text>
<text x="72.50" y="361.15" font-size="8.8" text-anchor="middle" font-weight="normal" fill="#333333" stroke="#333333" stroke-width="0.18">5</text>
<text x="93.60" y="361.15" font-size="8.8" text-anchor="middle" font-weight="normal" fill="#333333" stroke="#333333" stroke-width="0.18">10</text>
<text x="114.90" y="361.15" font-size="8.8" text-anchor="middle" font-weight="normal" fill="#333333" stroke="#333333" stroke-width="0.18">15</text>
<text x="136.20" y="361.15" font-size="8.8" text-anchor="middle" font-weight="normal" fill="#333333" stroke="#333333" stroke-width="0.18">25</text>
<text x="76.50" y="375.05" font-size="10.5" text-anchor="start" font-weight="normal" fill="#333333" stroke="#333333" stroke-width="0.18" textLength="30.60" lengthAdjust="spacingAndGlyphs">IDLV MOI</text>
<text transform="translate(14.00,308.85) rotate(-90)" x="0" y="3.04" font-size="10.5" text-anchor="middle" font-weight="normal" fill="#333333" stroke="#333333" stroke-width="0.18" textLength="44.70" lengthAdjust="spacingAndGlyphs">%EGFP+ cells</text>
<line x1="72.50" y1="333.40" x2="72.50" y2="340.80" stroke="#2f4f8c" stroke-width="1.1"/>
<line x1="70.30" y1="333.40" x2="74.70" y2="333.40" stroke="#2f4f8c" stroke-width="1.1"/>
<line x1="70.30" y1="340.80" x2="74.70" y2="340.80" stroke="#2f4f8c" stroke-width="1.1"/>
<line x1="93.60" y1="319.70" x2="93.60" y2="326.60" stroke="#2f4f8c" stroke-width="1.1"/>
<line x1="91.40" y1="319.70" x2="95.80" y2="319.70" stroke="#2f4f8c" stroke-width="1.1"/>
<line x1="91.40" y1="326.60" x2="95.80" y2="326.60" stroke="#2f4f8c" stroke-width="1.1"/>
<line x1="114.90" y1="311.20" x2="114.90" y2="321.40" stroke="#2f4f8c" stroke-width="1.1"/>
<line x1="112.70" y1="311.20" x2="117.10" y2="311.20" stroke="#2f4f8c" stroke-width="1.1"/>
<line x1="112.70" y1="321.40" x2="117.10" y2="321.40" stroke="#2f4f8c" stroke-width="1.1"/>
<line x1="136.20" y1="300.20" x2="136.20" y2="304.90" stroke="#2f4f8c" stroke-width="1.1"/>
<line x1="134.00" y1="300.20" x2="138.40" y2="300.20" stroke="#2f4f8c" stroke-width="1.1"/>
<line x1="134.00" y1="304.90" x2="138.40" y2="304.90" stroke="#2f4f8c" stroke-width="1.1"/>
<line x1="72.50" y1="313.30" x2="72.50" y2="325.00" stroke="#6cb443" stroke-width="1.1"/>
<line x1="70.30" y1="313.30" x2="74.70" y2="313.30" stroke="#6cb443" stroke-width="1.1"/>
<line x1="70.30" y1="325.00" x2="74.70" y2="325.00" stroke="#6cb443" stroke-width="1.1"/>
<line x1="93.60" y1="295.70" x2="93.60" y2="309.00" stroke="#6cb443" stroke-width="1.1"/>
<line x1="91.40" y1="295.70" x2="95.80" y2="295.70" stroke="#6cb443" stroke-width="1.1"/>
<line x1="91.40" y1="309.00" x2="95.80" y2="309.00" stroke="#6cb443" stroke-width="1.1"/>
<line x1="114.90" y1="282.00" x2="114.90" y2="299.50" stroke="#6cb443" stroke-width="1.1"/>
<line x1="112.70" y1="282.00" x2="117.10" y2="282.00" stroke="#6cb443" stroke-width="1.1"/>
<line x1="112.70" y1="299.50" x2="117.10" y2="299.50" stroke="#6cb443" stroke-width="1.1"/>
<line x1="136.20" y1="276.00" x2="136.20" y2="282.30" stroke="#6cb443" stroke-width="1.1"/>
<line x1="134.00" y1="276.00" x2="138.40" y2="276.00" stroke="#6cb443" stroke-width="1.1"/>
<line x1="134.00" y1="282.30" x2="138.40" y2="282.30" stroke="#6cb443" stroke-width="1.1"/>
<line x1="72.50" y1="314.00" x2="72.50" y2="320.00" stroke="#b0153a" stroke-width="1.1"/>
<line x1="70.30" y1="314.00" x2="74.70" y2="314.00" stroke="#b0153a" stroke-width="1.1"/>
<line x1="70.30" y1="320.00" x2="74.70" y2="320.00" stroke="#b0153a" stroke-width="1.1"/>
<line x1="93.60" y1="297.80" x2="93.60" y2="303.80" stroke="#b0153a" stroke-width="1.1"/>
<line x1="91.40" y1="297.80" x2="95.80" y2="297.80" stroke="#b0153a" stroke-width="1.1"/>
<line x1="91.40" y1="303.80" x2="95.80" y2="303.80" stroke="#b0153a" stroke-width="1.1"/>
<line x1="114.90" y1="288.00" x2="114.90" y2="293.50" stroke="#b0153a" stroke-width="1.1"/>
<line x1="112.70" y1="288.00" x2="117.10" y2="288.00" stroke="#b0153a" stroke-width="1.1"/>
<line x1="112.70" y1="293.50" x2="117.10" y2="293.50" stroke="#b0153a" stroke-width="1.1"/>
<line x1="136.20" y1="273.90" x2="136.20" y2="280.00" stroke="#b0153a" stroke-width="1.1"/>
<line x1="134.00" y1="273.90" x2="138.40" y2="273.90" stroke="#b0153a" stroke-width="1.1"/>
<line x1="134.00" y1="280.00" x2="138.40" y2="280.00" stroke="#b0153a" stroke-width="1.1"/>
<polyline points="51.40,347.20 72.50,337.30 93.60,323.00 114.90,315.90 136.20,302.20" fill="none" stroke="#2f4f8c" stroke-width="1.3" stroke-linejoin="round"/>
<polyline points="51.40,341.20 72.50,321.80 93.60,306.20 114.90,296.50 136.20,280.50" fill="none" stroke="#6cb443" stroke-width="1.4" stroke-linejoin="round"/>
<polyline points="51.40,341.00 72.50,316.00 93.60,300.00 114.90,289.00 136.20,278.50" fill="none" stroke="#6cb443" stroke-width="1.4" stroke-linejoin="round"/>
<polyline points="51.40,344.20 72.50,317.00 93.60,300.80 114.90,290.70 136.20,277.30" fill="none" stroke="#b0153a" stroke-width="1.7" stroke-linejoin="round"/>
<circle cx="51.40" cy="347.20" r="1.8" fill="#2f4f8c"/>
<circle cx="72.50" cy="337.30" r="1.8" fill="#2f4f8c"/>
<circle cx="93.60" cy="323.00" r="1.8" fill="#2f4f8c"/>
<circle cx="114.90" cy="315.90" r="1.8" fill="#2f4f8c"/>
<circle cx="136.20" cy="302.20" r="1.8" fill="#2f4f8c"/>
<rect x="49.80" y="339.60" width="3.2" height="3.2" fill="#fff" stroke="#6cb443" stroke-width="1"/>
<rect x="70.90" y="320.20" width="3.2" height="3.2" fill="#fff" stroke="#6cb443" stroke-width="1"/>
<rect x="92.00" y="304.60" width="3.2" height="3.2" fill="#fff" stroke="#6cb443" stroke-width="1"/>
<rect x="113.30" y="294.90" width="3.2" height="3.2" fill="#fff" stroke="#6cb443" stroke-width="1"/>
<rect x="134.60" y="278.90" width="3.2" height="3.2" fill="#fff" stroke="#6cb443" stroke-width="1"/>
<rect x="49.40" y="339.00" width="4" height="4" fill="#6cb443"/>
<rect x="49.40" y="342.20" width="4" height="4" fill="#b0153a"/>
<rect x="70.50" y="315.00" width="4" height="4" fill="#b0153a"/>
<rect x="91.60" y="298.80" width="4" height="4" fill="#b0153a"/>
<rect x="112.90" y="288.70" width="4" height="4" fill="#b0153a"/>
<rect x="134.20" y="275.30" width="4" height="4" fill="#b0153a"/>
<line x1="67.80" y1="302.00" x2="67.80" y2="304.40" stroke="#231f20" stroke-width="0.75"/>
<line x1="66.76" y1="302.60" x2="68.84" y2="303.80" stroke="#231f20" stroke-width="0.75"/>
<line x1="68.84" y1="302.60" x2="66.76" y2="303.80" stroke="#231f20" stroke-width="0.75"/>
<line x1="71.00" y1="302.00" x2="71.00" y2="304.40" stroke="#231f20" stroke-width="0.75"/>
<line x1="69.96" y1="302.60" x2="72.04" y2="303.80" stroke="#231f20" stroke-width="0.75"/>
<line x1="72.04" y1="302.60" x2="69.96" y2="303.80" stroke="#231f20" stroke-width="0.75"/>
<line x1="74.20" y1="302.00" x2="74.20" y2="304.40" stroke="#231f20" stroke-width="0.75"/>
<line x1="73.16" y1="302.60" x2="75.24" y2="303.80" stroke="#231f20" stroke-width="0.75"/>
<line x1="75.24" y1="302.60" x2="73.16" y2="303.80" stroke="#231f20" stroke-width="0.75"/>
<line x1="77.40" y1="302.00" x2="77.40" y2="304.40" stroke="#231f20" stroke-width="0.75"/>
<line x1="76.36" y1="302.60" x2="78.44" y2="303.80" stroke="#231f20" stroke-width="0.75"/>
<line x1="78.44" y1="302.60" x2="76.36" y2="303.80" stroke="#231f20" stroke-width="0.75"/>
<line x1="88.90" y1="283.00" x2="88.90" y2="285.40" stroke="#231f20" stroke-width="0.75"/>
<line x1="87.86" y1="283.60" x2="89.94" y2="284.80" stroke="#231f20" stroke-width="0.75"/>
<line x1="89.94" y1="283.60" x2="87.86" y2="284.80" stroke="#231f20" stroke-width="0.75"/>
<line x1="92.17" y1="283.00" x2="92.17" y2="285.40" stroke="#231f20" stroke-width="0.75"/>
<line x1="91.13" y1="283.60" x2="93.21" y2="284.80" stroke="#231f20" stroke-width="0.75"/>
<line x1="93.21" y1="283.60" x2="91.13" y2="284.80" stroke="#231f20" stroke-width="0.75"/>
<line x1="95.43" y1="283.00" x2="95.43" y2="285.40" stroke="#231f20" stroke-width="0.75"/>
<line x1="94.39" y1="283.60" x2="96.47" y2="284.80" stroke="#231f20" stroke-width="0.75"/>
<line x1="96.47" y1="283.60" x2="94.39" y2="284.80" stroke="#231f20" stroke-width="0.75"/>
<line x1="98.70" y1="283.00" x2="98.70" y2="285.40" stroke="#231f20" stroke-width="0.75"/>
<line x1="97.66" y1="283.60" x2="99.74" y2="284.80" stroke="#231f20" stroke-width="0.75"/>
<line x1="99.74" y1="283.60" x2="97.66" y2="284.80" stroke="#231f20" stroke-width="0.75"/>
<line x1="110.10" y1="272.20" x2="110.10" y2="274.60" stroke="#231f20" stroke-width="0.75"/>
<line x1="109.06" y1="272.80" x2="111.14" y2="274.00" stroke="#231f20" stroke-width="0.75"/>
<line x1="111.14" y1="272.80" x2="109.06" y2="274.00" stroke="#231f20" stroke-width="0.75"/>
<line x1="113.40" y1="272.20" x2="113.40" y2="274.60" stroke="#231f20" stroke-width="0.75"/>
<line x1="112.36" y1="272.80" x2="114.44" y2="274.00" stroke="#231f20" stroke-width="0.75"/>
<line x1="114.44" y1="272.80" x2="112.36" y2="274.00" stroke="#231f20" stroke-width="0.75"/>
<line x1="116.70" y1="272.20" x2="116.70" y2="274.60" stroke="#231f20" stroke-width="0.75"/>
<line x1="115.66" y1="272.80" x2="117.74" y2="274.00" stroke="#231f20" stroke-width="0.75"/>
<line x1="117.74" y1="272.80" x2="115.66" y2="274.00" stroke="#231f20" stroke-width="0.75"/>
<line x1="120.00" y1="272.20" x2="120.00" y2="274.60" stroke="#231f20" stroke-width="0.75"/>
<line x1="118.96" y1="272.80" x2="121.04" y2="274.00" stroke="#231f20" stroke-width="0.75"/>
<line x1="121.04" y1="272.80" x2="118.96" y2="274.00" stroke="#231f20" stroke-width="0.75"/>
<line x1="131.40" y1="265.40" x2="131.40" y2="267.80" stroke="#231f20" stroke-width="0.75"/>
<line x1="130.36" y1="266.00" x2="132.44" y2="267.20" stroke="#231f20" stroke-width="0.75"/>
<line x1="132.44" y1="266.00" x2="130.36" y2="267.20" stroke="#231f20" stroke-width="0.75"/>
<line x1="134.70" y1="265.40" x2="134.70" y2="267.80" stroke="#231f20" stroke-width="0.75"/>
<line x1="133.66" y1="266.00" x2="135.74" y2="267.20" stroke="#231f20" stroke-width="0.75"/>
<line x1="135.74" y1="266.00" x2="133.66" y2="267.20" stroke="#231f20" stroke-width="0.75"/>
<line x1="138.00" y1="265.40" x2="138.00" y2="267.80" stroke="#231f20" stroke-width="0.75"/>
<line x1="136.96" y1="266.00" x2="139.04" y2="267.20" stroke="#231f20" stroke-width="0.75"/>
<line x1="139.04" y1="266.00" x2="136.96" y2="267.20" stroke="#231f20" stroke-width="0.75"/>
<line x1="141.30" y1="265.40" x2="141.30" y2="267.80" stroke="#231f20" stroke-width="0.75"/>
<line x1="140.26" y1="266.00" x2="142.34" y2="267.20" stroke="#231f20" stroke-width="0.75"/>
<line x1="142.34" y1="266.00" x2="140.26" y2="267.20" stroke="#231f20" stroke-width="0.75"/>
<line x1="6.90" y1="390.60" x2="15.90" y2="390.60" stroke="#6cb443" stroke-width="1.3"/>
<circle cx="11.40" cy="390.60" r="1.8" fill="#fff" stroke="#6cb443" stroke-width="1"/>
<text x="18.70" y="393.15" font-size="8.8" text-anchor="start" font-weight="normal" fill="#333333" stroke="#333333" stroke-width="0.18" textLength="67.30" lengthAdjust="spacingAndGlyphs">Caraphenol A 30µM</text>
<line x1="6.90" y1="401.30" x2="15.90" y2="401.30" stroke="#6cb443" stroke-width="1.3"/>
<circle cx="11.40" cy="401.30" r="1.8" fill="#6cb443"/>
<text x="18.70" y="403.85" font-size="8.8" text-anchor="start" font-weight="normal" fill="#333333" stroke="#333333" stroke-width="0.18" textLength="67.30" lengthAdjust="spacingAndGlyphs">Caraphenol A 50µM</text>
<line x1="96.90" y1="389.80" x2="105.80" y2="389.80" stroke="#2f4f8c" stroke-width="1.3"/>
<circle cx="101.35" cy="389.80" r="1.7" fill="#2f4f8c"/>
<text x="108.70" y="392.35" font-size="8.8" text-anchor="start" font-weight="normal" fill="#333333" stroke="#333333" stroke-width="0.18" textLength="45.10" lengthAdjust="spacingAndGlyphs">DMSO 0.06%</text>
<line x1="96.90" y1="401.00" x2="105.80" y2="401.00" stroke="#b0153a" stroke-width="1.3"/>
<circle cx="101.35" cy="401.00" r="1.7" fill="#b0153a"/>
<text x="108.70" y="403.55" font-size="8.8" text-anchor="start" font-weight="normal" fill="#333333" stroke="#333333" stroke-width="0.18" textLength="68.20" lengthAdjust="spacingAndGlyphs">Rapamycin 20µg/mL</text>
<line x1="219.30" y1="270.50" x2="219.30" y2="348.80" stroke="#231f20" stroke-width="1.2"/>
<line x1="216.30" y1="348.20" x2="219.30" y2="348.20" stroke="#231f20" stroke-width="1.2"/>
<text x="213.60" y="350.93" font-size="8.8" text-anchor="end" font-weight="normal" fill="#333333" stroke="#333333" stroke-width="0.18">0</text>
<line x1="216.30" y1="333.20" x2="219.30" y2="333.20" stroke="#231f20" stroke-width="1.2"/>
<text x="213.60" y="335.93" font-size="8.8" text-anchor="end" font-weight="normal" fill="#333333" stroke="#333333" stroke-width="0.18">10</text>
<line x1="216.30" y1="318.20" x2="219.30" y2="318.20" stroke="#231f20" stroke-width="1.2"/>
<text x="213.60" y="320.93" font-size="8.8" text-anchor="end" font-weight="normal" fill="#333333" stroke="#333333" stroke-width="0.18">20</text>
<line x1="216.30" y1="303.20" x2="219.30" y2="303.20" stroke="#231f20" stroke-width="1.2"/>
<text x="213.60" y="305.93" font-size="8.8" text-anchor="end" font-weight="normal" fill="#333333" stroke="#333333" stroke-width="0.18">30</text>
<line x1="216.30" y1="288.20" x2="219.30" y2="288.20" stroke="#231f20" stroke-width="1.2"/>
<text x="213.60" y="290.93" font-size="8.8" text-anchor="end" font-weight="normal" fill="#333333" stroke="#333333" stroke-width="0.18">40</text>
<line x1="216.30" y1="273.20" x2="219.30" y2="273.20" stroke="#231f20" stroke-width="1.2"/>
<text x="213.60" y="275.93" font-size="8.8" text-anchor="end" font-weight="normal" fill="#333333" stroke="#333333" stroke-width="0.18">50</text>
<rect x="226.80" y="317.00" width="13.60" height="31.20" fill="#2e5088" stroke="#233f74" stroke-width="0.8"/>
<rect x="247.70" y="292.00" width="14.30" height="56.20" fill="#6aae45"/>
<rect x="269.10" y="292.00" width="14.10" height="56.20" fill="#6aae45"/>
<rect x="290.40" y="295.30" width="14.20" height="52.90" fill="#6aae45"/>
<rect x="311.70" y="301.10" width="14.20" height="47.10" fill="#6aae45"/>
<line x1="233.60" y1="315.60" x2="233.60" y2="318.00" stroke="#231f20" stroke-width="1.1"/>
<line x1="230.30" y1="315.60" x2="236.90" y2="315.60" stroke="#231f20" stroke-width="1.1"/>
<line x1="230.30" y1="318.00" x2="236.90" y2="318.00" stroke="#231f20" stroke-width="1.1"/>
<line x1="254.85" y1="286.20" x2="254.85" y2="297.20" stroke="#231f20" stroke-width="1.1"/>
<line x1="251.55" y1="286.20" x2="258.15" y2="286.20" stroke="#231f20" stroke-width="1.1"/>
<line x1="251.55" y1="297.20" x2="258.15" y2="297.20" stroke="#231f20" stroke-width="1.1"/>
<line x1="276.15" y1="287.10" x2="276.15" y2="296.40" stroke="#231f20" stroke-width="1.1"/>
<line x1="272.85" y1="287.10" x2="279.45" y2="287.10" stroke="#231f20" stroke-width="1.1"/>
<line x1="272.85" y1="296.40" x2="279.45" y2="296.40" stroke="#231f20" stroke-width="1.1"/>
<line x1="297.50" y1="291.40" x2="297.50" y2="298.40" stroke="#231f20" stroke-width="1.1"/>
<line x1="294.20" y1="291.40" x2="300.80" y2="291.40" stroke="#231f20" stroke-width="1.1"/>
<line x1="294.20" y1="298.40" x2="300.80" y2="298.40" stroke="#231f20" stroke-width="1.1"/>
<line x1="318.80" y1="297.40" x2="318.80" y2="304.20" stroke="#231f20" stroke-width="1.1"/>
<line x1="315.50" y1="297.40" x2="322.10" y2="297.40" stroke="#231f20" stroke-width="1.1"/>
<line x1="315.50" y1="304.20" x2="322.10" y2="304.20" stroke="#231f20" stroke-width="1.1"/>
<line x1="219.30" y1="348.20" x2="332.80" y2="348.20" stroke="#231f20" stroke-width="1.2"/>
<line x1="233.60" y1="348.20" x2="233.60" y2="350.70" stroke="#231f20" stroke-width="1.2"/>
<line x1="254.85" y1="348.20" x2="254.85" y2="350.70" stroke="#231f20" stroke-width="1.2"/>
<line x1="276.15" y1="348.20" x2="276.15" y2="350.70" stroke="#231f20" stroke-width="1.2"/>
<line x1="297.50" y1="348.20" x2="297.50" y2="350.70" stroke="#231f20" stroke-width="1.2"/>
<line x1="318.80" y1="348.20" x2="318.80" y2="350.70" stroke="#231f20" stroke-width="1.2"/>
<text x="219.90" y="361.15" font-size="8.8" text-anchor="start" font-weight="normal" fill="#333333" stroke="#333333" stroke-width="0.18" textLength="26.80" lengthAdjust="spacingAndGlyphs">LV Only</text>
<text x="254.85" y="361.15" font-size="8.8" text-anchor="middle" font-weight="normal" fill="#333333" stroke="#333333" stroke-width="0.18">0</text>
<text x="276.15" y="361.15" font-size="8.8" text-anchor="middle" font-weight="normal" fill="#333333" stroke="#333333" stroke-width="0.18">+1</text>
<text x="297.50" y="361.15" font-size="8.8" text-anchor="middle" font-weight="normal" fill="#333333" stroke="#333333" stroke-width="0.18">+2</text>
<text x="318.80" y="361.15" font-size="8.8" text-anchor="middle" font-weight="normal" fill="#333333" stroke="#333333" stroke-width="0.18">+4</text>
<text x="209.50" y="374.63" font-size="10.8" text-anchor="start" font-weight="normal" fill="#333333" stroke="#333333" stroke-width="0.18" textLength="132.30" lengthAdjust="spacingAndGlyphs">Hour compound added after LV addition</text>
<text transform="translate(195.70,309.15) rotate(-90)" x="0" y="3.04" font-size="10.5" text-anchor="middle" font-weight="normal" fill="#333333" stroke="#333333" stroke-width="0.18" textLength="44.10" lengthAdjust="spacingAndGlyphs">%EGFP+ cells</text>
<rect x="231.60" y="388.10" width="9.10" height="4.20" fill="#6aae45"/>
<text x="243.70" y="392.75" font-size="8.8" text-anchor="start" font-weight="normal" fill="#333333" stroke="#333333" stroke-width="0.18" textLength="76.20" lengthAdjust="spacingAndGlyphs">Caraphenol A (30µM)</text>
<rect x="231.60" y="399.80" width="9.10" height="4.20" fill="#2e5088"/>
<text x="243.70" y="404.45" font-size="8.8" text-anchor="start" font-weight="normal" fill="#333333" stroke="#333333" stroke-width="0.18" textLength="52.50" lengthAdjust="spacingAndGlyphs">DMSO (0.06%)</text>
<line x1="385.20" y1="270.90" x2="385.20" y2="348.60" stroke="#231f20" stroke-width="1.2"/>
<line x1="382.20" y1="348.00" x2="385.20" y2="348.00" stroke="#231f20" stroke-width="1.2"/>
<text x="380.10" y="350.73" font-size="8.8" text-anchor="end" font-weight="normal" fill="#333333" stroke="#333333" stroke-width="0.18">0</text>
<line x1="382.20" y1="329.30" x2="385.20" y2="329.30" stroke="#231f20" stroke-width="1.2"/>
<text x="380.10" y="332.03" font-size="8.8" text-anchor="end" font-weight="normal" fill="#333333" stroke="#333333" stroke-width="0.18">10</text>
<line x1="382.20" y1="310.60" x2="385.20" y2="310.60" stroke="#231f20" stroke-width="1.2"/>
<text x="380.10" y="313.33" font-size="8.8" text-anchor="end" font-weight="normal" fill="#333333" stroke="#333333" stroke-width="0.18">20</text>
<line x1="382.20" y1="291.90" x2="385.20" y2="291.90" stroke="#231f20" stroke-width="1.2"/>
<text x="380.10" y="294.63" font-size="8.8" text-anchor="end" font-weight="normal" fill="#333333" stroke="#333333" stroke-width="0.18">30</text>
<line x1="382.20" y1="273.20" x2="385.20" y2="273.20" stroke="#231f20" stroke-width="1.2"/>
<text x="380.10" y="275.93" font-size="8.8" text-anchor="end" font-weight="normal" fill="#333333" stroke="#333333" stroke-width="0.18">40</text>
<rect x="393.00" y="313.70" width="12.80" height="34.30" fill="#2e5088" stroke="#233f74" stroke-width="0.8"/>
<rect x="413.30" y="283.30" width="13.80" height="64.70" fill="#6aae45"/>
<rect x="433.90" y="302.90" width="13.80" height="45.10" fill="#6aae45"/>
<rect x="454.90" y="300.00" width="13.50" height="48.00" fill="#6aae45"/>
<rect x="475.60" y="299.40" width="13.60" height="48.60" fill="#6aae45"/>
<line x1="399.40" y1="310.00" x2="399.40" y2="316.80" stroke="#231f20" stroke-width="1.1"/>
<line x1="396.10" y1="310.00" x2="402.70" y2="310.00" stroke="#231f20" stroke-width="1.1"/>
<line x1="396.10" y1="316.80" x2="402.70" y2="316.80" stroke="#231f20" stroke-width="1.1"/>
<line x1="420.20" y1="277.70" x2="420.20" y2="288.70" stroke="#231f20" stroke-width="1.1"/>
<line x1="416.90" y1="277.70" x2="423.50" y2="277.70" stroke="#231f20" stroke-width="1.1"/>
<line x1="416.90" y1="288.70" x2="423.50" y2="288.70" stroke="#231f20" stroke-width="1.1"/>
<line x1="440.80" y1="298.10" x2="440.80" y2="307.20" stroke="#231f20" stroke-width="1.1"/>
<line x1="437.50" y1="298.10" x2="444.10" y2="298.10" stroke="#231f20" stroke-width="1.1"/>
<line x1="437.50" y1="307.20" x2="444.10" y2="307.20" stroke="#231f20" stroke-width="1.1"/>
<line x1="461.65" y1="295.20" x2="461.65" y2="305.30" stroke="#231f20" stroke-width="1.1"/>
<line x1="458.35" y1="295.20" x2="464.95" y2="295.20" stroke="#231f20" stroke-width="1.1"/>
<line x1="458.35" y1="305.30" x2="464.95" y2="305.30" stroke="#231f20" stroke-width="1.1"/>
<line x1="482.40" y1="293.60" x2="482.40" y2="304.90" stroke="#231f20" stroke-width="1.1"/>
<line x1="479.10" y1="293.60" x2="485.70" y2="293.60" stroke="#231f20" stroke-width="1.1"/>
<line x1="479.10" y1="304.90" x2="485.70" y2="304.90" stroke="#231f20" stroke-width="1.1"/>
<line x1="385.20" y1="348.00" x2="495.50" y2="348.00" stroke="#231f20" stroke-width="1.2"/>
<line x1="399.40" y1="348.00" x2="399.40" y2="350.50" stroke="#231f20" stroke-width="1.2"/>
<line x1="420.20" y1="348.00" x2="420.20" y2="350.50" stroke="#231f20" stroke-width="1.2"/>
<line x1="440.80" y1="348.00" x2="440.80" y2="350.50" stroke="#231f20" stroke-width="1.2"/>
<line x1="461.65" y1="348.00" x2="461.65" y2="350.50" stroke="#231f20" stroke-width="1.2"/>
<line x1="482.40" y1="348.00" x2="482.40" y2="350.50" stroke="#231f20" stroke-width="1.2"/>
<text transform="translate(362.00,309.30) rotate(-90)" x="0" y="3.04" font-size="10.5" text-anchor="middle" font-weight="normal" fill="#333333" stroke="#333333" stroke-width="0.18" textLength="45.60" lengthAdjust="spacingAndGlyphs">%EGFP+ cells</text>
<text transform="translate(402.40,357.70) rotate(-45)" x="0" y="0.00" font-size="8.8" text-anchor="end" font-weight="normal" fill="#333333" stroke="#333333" stroke-width="0.18" textLength="43.50" lengthAdjust="spacingAndGlyphs">8 hr LV Only</text>
<text transform="translate(421.80,356.80) rotate(-45)" x="0" y="0.00" font-size="8.8" text-anchor="end" font-weight="normal" fill="#333333" stroke="#333333" stroke-width="0.18" textLength="49.30" lengthAdjust="spacingAndGlyphs">8 hr Cara + LV</text>
<text transform="translate(439.20,360.00) rotate(-45)" x="0" y="2.55" font-size="8.8" text-anchor="middle" font-weight="normal" fill="#333333" stroke="#333333" stroke-width="0.18">+1</text>
<text transform="translate(460.40,360.00) rotate(-45)" x="0" y="2.55" font-size="8.8" text-anchor="middle" font-weight="normal" fill="#333333" stroke="#333333" stroke-width="0.18">+2</text>
<text transform="translate(480.60,360.00) rotate(-45)" x="0" y="2.55" font-size="8.8" text-anchor="middle" font-weight="normal" fill="#333333" stroke="#333333" stroke-width="0.18">+4</text>
<line x1="438.30" y1="371.30" x2="484.80" y2="371.30" stroke="#231f20" stroke-width="1.0"/>
<line x1="438.30" y1="369.00" x2="438.30" y2="371.30" stroke="#231f20" stroke-width="1.0"/>
<line x1="484.80" y1="369.00" x2="484.80" y2="371.30" stroke="#231f20" stroke-width="1.0"/>
<text x="423.80" y="381.95" font-size="8.8" text-anchor="start" font-weight="normal" fill="#333333" stroke="#333333" stroke-width="0.18" textLength="75.00" lengthAdjust="spacingAndGlyphs">Hr incubated w/ Cara</text>
<text x="408.60" y="391.55" font-size="8.8" text-anchor="start" font-weight="normal" fill="#333333" stroke="#333333" stroke-width="0.18" textLength="105.60" lengthAdjust="spacingAndGlyphs">before WO &amp; 8 hr LV addition</text>
<rect x="0" y="0" width="520" height="1" fill="#000"/><rect x="0" y="0" width="1" height="413" fill="#000"/><rect x="518.7" y="0" width="1.3" height="413" fill="#000"/><rect x="0" y="411.8" width="520" height="1.2" fill="#000"/>
</svg>
</body></html>
